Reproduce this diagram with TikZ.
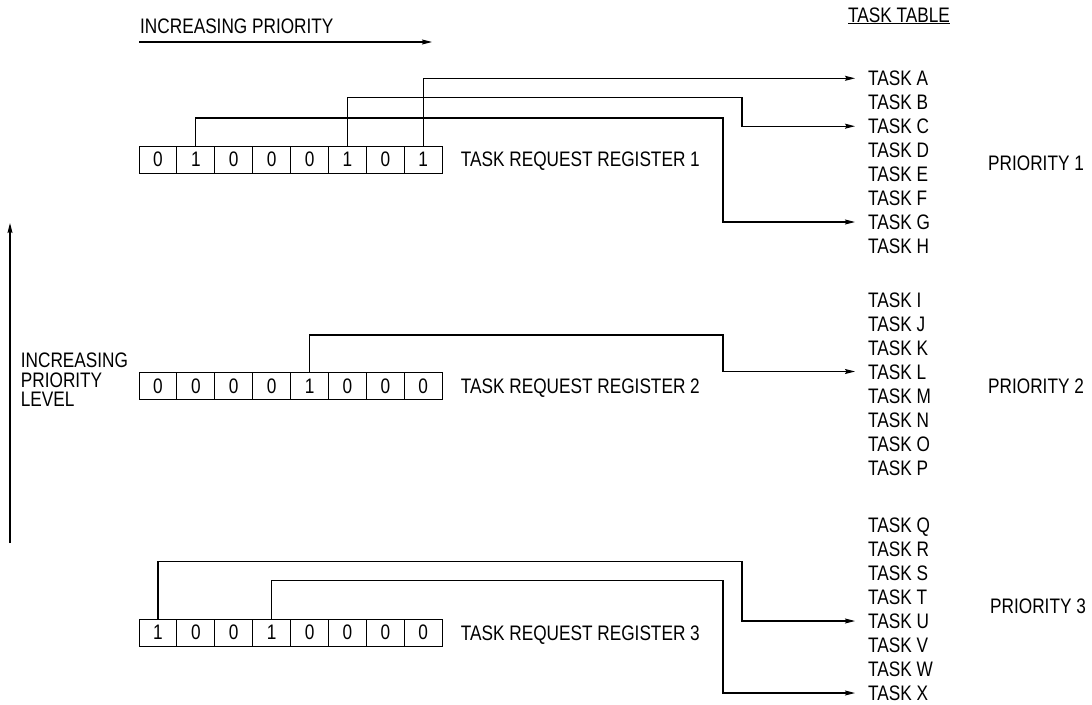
\documentclass[tikz,border=0pt]{standalone}
\usepackage{fontspec}
\setmainfont{Liberation Sans}[FakeStretch=0.82]
\usetikzlibrary{arrows.meta}
\begin{document}
\begin{tikzpicture}[x=1pt,y=-1pt,
  font=\fontsize{21}{24}\selectfont,
  cell/.style={draw, line width=0.9pt, minimum width=37.9pt, minimum height=27pt, inner sep=0pt, anchor=center},
  lbl/.style={anchor=base west, inner sep=0pt},
  task/.style={anchor=west, inner sep=0pt, text height=15pt, text depth=0pt},
  conn/.style={line width=1.1pt, -{Stealth[length=10pt,width=5pt,inset=1.5pt]}}]
\useasboundingbox (0,0) rectangle (1092,704);

% top labels
\node[lbl] (ip) at (140,33.3) {INCREASING PRIORITY};
\coordinate (ipa) at (139,42);
\coordinate (ipb) at (432,42);
\draw[conn] (ipa) -- (ipb);
\node[lbl] (tt) at (848,22) {\underline{TASK TABLE}};

% left label and arrow
\coordinate (la) at (10,543);
\coordinate (lb) at (10,223);
\draw[conn] (la) -- (lb);
\node[anchor=north west, inner sep=0pt, align=left, font=\fontsize{21}{19.5}\selectfont] (ipl) at (20.7,353)
  {INCREASING\\PRIORITY\\LEVEL};

% task table
\foreach \t [count=\i from 0] in {A,B,C,D,E,F,G,H}
  \node[task] (t\t) at (868,78.3+23.95*\i) {TASK \t};
\foreach \t [count=\i from 0] in {I,J,K,L,M,N,O,P}
  \node[task] (t\t) at (868,299.5+24*\i) {TASK \t};
\foreach \t [count=\i from 0] in {Q,R,S,T,U,V,W,X}
  \node[task] (t\t) at (868,525+24*\i) {TASK \t};

% priority labels
\node[lbl] (p1) at (988,170.5) {PRIORITY 1};
\node[lbl] (p2) at (988,393.5) {PRIORITY 2};
\node[lbl] (p3) at (990,613) {PRIORITY 3};

% registers
\foreach \b [count=\i from 0] in {0,1,0,0,0,1,0,1}
  \node[cell] (r1c\i) at (139+37.9*\i+18.95,159.5) {\b};
\foreach \b [count=\i from 0] in {0,0,0,0,1,0,0,0}
  \node[cell] (r2c\i) at (139+37.9*\i+18.95,386.2) {\b};
\foreach \b [count=\i from 0] in {1,0,0,1,0,0,0,0}
  \node[cell] (r3c\i) at (139+37.9*\i+18.95,632.5) {\b};

\node[lbl] (rl1) at (460.7,166.7) {TASK REQUEST REGISTER 1};
\node[lbl] (rl2) at (460.7,393.7) {TASK REQUEST REGISTER 2};
\node[lbl] (rl3) at (460.7,640) {TASK REQUEST REGISTER 3};

% connector channels
\coordinate (k1) at (723,118);
\coordinate (k2) at (742,97.7);
\coordinate (k3) at (723,335);
\coordinate (k4) at (742,561.7);
\coordinate (k5) at (723,580.7);

\draw[conn] (r1c7.north) |- ([xshift=-13pt]tA.west);
\draw[conn] (r1c5.north) |- (k2) |- ([xshift=-13pt]tC.west);
\draw[conn] (r1c1.north) |- (k1) |- ([xshift=-13pt]tG.west);
\draw[conn] (r2c4.north) |- (k3) |- ([xshift=-13pt]tL.west);
\draw[conn] (r3c0.north) |- (k4) |- ([xshift=-13pt]tU.west);
\draw[conn] (r3c3.north) |- (k5) |- ([xshift=-13pt]tX.west);
\end{tikzpicture}
\end{document}
